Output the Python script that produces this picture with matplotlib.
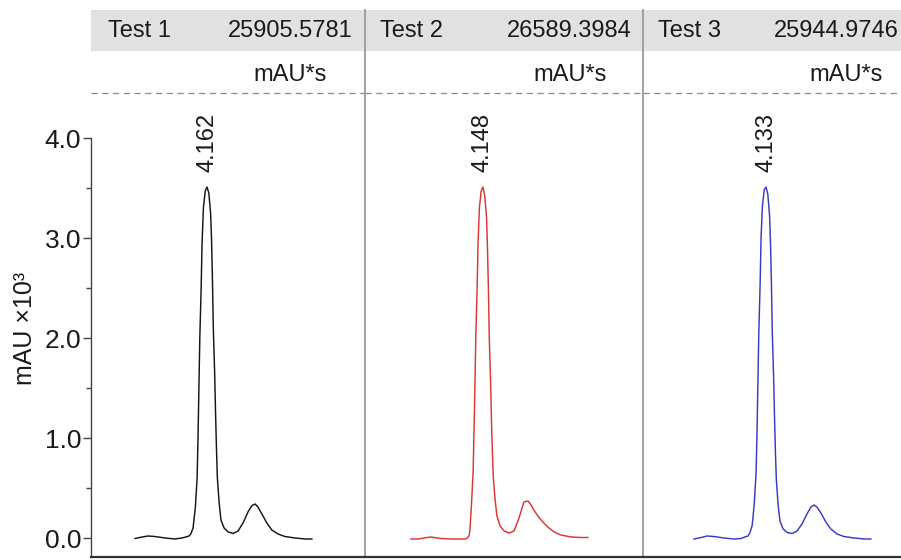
import matplotlib.pyplot as plt

plt.rcParams['font.family'] = ['Liberation Sans', 'DejaVu Sans']

# retention time (min) and signal (mAU x10^3)
time_min = [2.56, 2.72, 2.85, 3.00, 3.23, 3.45, 3.60, 3.69, 3.76, 3.80,
            3.85, 3.87, 3.90, 3.94, 3.96, 3.98, 4.00, 4.03, 4.05, 4.08,
            4.12, 4.16, 4.20, 4.24, 4.26, 4.28, 4.30, 4.33, 4.35, 4.37,
            4.39, 4.43, 4.47, 4.54, 4.63, 4.74, 4.85, 4.96, 5.07, 5.16,
            5.23, 5.29, 5.38, 5.49, 5.60, 5.74, 5.89, 6.12, 6.34, 6.49]

test1 = [-0.005, 0.01, 0.02, 0.015, 0.0, -0.01, 0.0, 0.01, 0.02, 0.04,
         0.10, 0.18, 0.30, 0.60, 1.00, 1.50, 2.00, 2.50, 2.95, 3.30,
         3.47, 3.51, 3.45, 3.25, 3.00, 2.60, 2.10, 1.65, 1.25, 0.90,
         0.60, 0.35, 0.18, 0.10, 0.06, 0.045, 0.07, 0.15, 0.26, 0.325,
         0.34, 0.31, 0.24, 0.15, 0.08, 0.04, 0.015, 0.0, -0.01, -0.01]

test2 = [-0.01, -0.01, 0.0, 0.01, -0.005, -0.01, -0.01, -0.01, -0.01, -0.005,
         0.02, 0.08, 0.30, 0.65, 1.05, 1.50, 2.00, 2.50, 2.95, 3.30,
         3.47, 3.51, 3.42, 3.20, 2.90, 2.50, 2.00, 1.55, 1.15, 0.85,
         0.60, 0.38, 0.22, 0.12, 0.07, 0.05, 0.07, 0.20, 0.36, 0.37,
         0.33, 0.28, 0.22, 0.16, 0.11, 0.06, 0.03, 0.01, 0.005, 0.005]

test3 = [-0.01, 0.005, 0.02, 0.015, 0.0, -0.01, -0.005, 0.01, 0.02, 0.05,
         0.12, 0.20, 0.35, 0.65, 1.05, 1.55, 2.05, 2.55, 3.00, 3.32,
         3.48, 3.51, 3.44, 3.22, 2.95, 2.55, 2.05, 1.60, 1.20, 0.85,
         0.58, 0.33, 0.17, 0.09, 0.055, 0.045, 0.07, 0.14, 0.24, 0.31,
         0.33, 0.31, 0.25, 0.16, 0.09, 0.04, 0.015, 0.0, -0.01, -0.01]

series = [test1, test2, test3]
names = ["Test 1", "Test 2", "Test 3"]
areas = ["25905.5781", "26589.3984", "25944.9746"]
retention = ["4.162", "4.148", "4.133"]
colors = ["#151515", "#d93636", "#3a3ac4"]

W, H = 901, 560
fig = plt.figure(figsize=(W / 100, H / 100), dpi=100)

# panel extents in pixels (last one runs past the right edge, as in the source)
panels_px = [(91, 365), (365, 643), (643, 921)]
xlims = [(1.582, 7.671), (1.538, 7.716), (1.427, 7.604)]
top_px, bot_px = 10, 557
names_x = [108, 380, 658]
areas_x = [353, 632, 899]
units_x = [327, 607, 883]

txt = "#1a1a1a"

for i in range(3):
    x0, x1 = panels_px[i]
    ax = fig.add_axes([x0 / W, 1 - bot_px / H, (x1 - x0) / W, (bot_px - top_px) / H])
    ax.plot(time_min, series[i], color=colors[i], lw=1.05)
    ax.set_xlim(xlims[i])
    ax.set_ylim(-0.19, 5.28)

    # header band + dashed separator
    ax.axhspan(4.87, 5.28, color="#e1e1e1", lw=0, zorder=0)
    ax.axhline(4.45, color="#8a8a8a", lw=0.9, ls=(0, (5, 3.6)))

    # peak label
    k = series[i].index(max(series[i]))
    ax.annotate(retention[i], xy=(time_min[k], series[i][k]), xytext=(0, 11),
                textcoords="offset points", rotation=90, ha="center", va="bottom",
                fontsize=17, color=txt)

    ax.spines["top"].set_visible(False)
    ax.spines["right"].set_visible(False)
    ax.spines["bottom"].set_color("#333333")
    ax.spines["bottom"].set_linewidth(1.6)
    ax.set_xticks([])

    if i == 0:
        ax.spines["left"].set_color("#444444")
        ax.spines["left"].set_linewidth(1.0)
        ax.spines["left"].set_bounds(-0.19, 4.0)
        ax.set_yticks([0, 1, 2, 3, 4])
        ax.set_yticks([0.5, 1.5, 2.5, 3.5], minor=True)
        ax.set_yticklabels(["0.0", "1.0", "2.0", "3.0", "4.0"])
        ax.tick_params(axis="y", which="major", length=5.5, width=1.0,
                       color="#444444", labelsize=19, labelcolor=txt, pad=1.5)
        ax.tick_params(axis="y", which="minor", length=3.5, width=1.0, color="#444444")
    else:
        ax.spines["left"].set_color("#9a9a9a")
        ax.spines["left"].set_linewidth(1.3)
        ax.tick_params(axis="y", which="both", left=False, labelleft=False)

    fig.text(names_x[i] / W, 1 - 31 / H, names[i], ha="left", va="center",
             fontsize=17, color=txt)
    fig.text(areas_x[i] / W, 1 - 31 / H, areas[i], ha="right", va="center",
             fontsize=17, color=txt)
    fig.text(units_x[i] / W, 1 - 75 / H, "mAU*s", ha="right", va="center",
             fontsize=17, color=txt)

fig.text(25 / W, 1 - 328 / H, "mAU ×10³", rotation=90, ha="center", va="center",
         fontsize=18, color=txt)

fig.savefig("out.png", dpi=100)
